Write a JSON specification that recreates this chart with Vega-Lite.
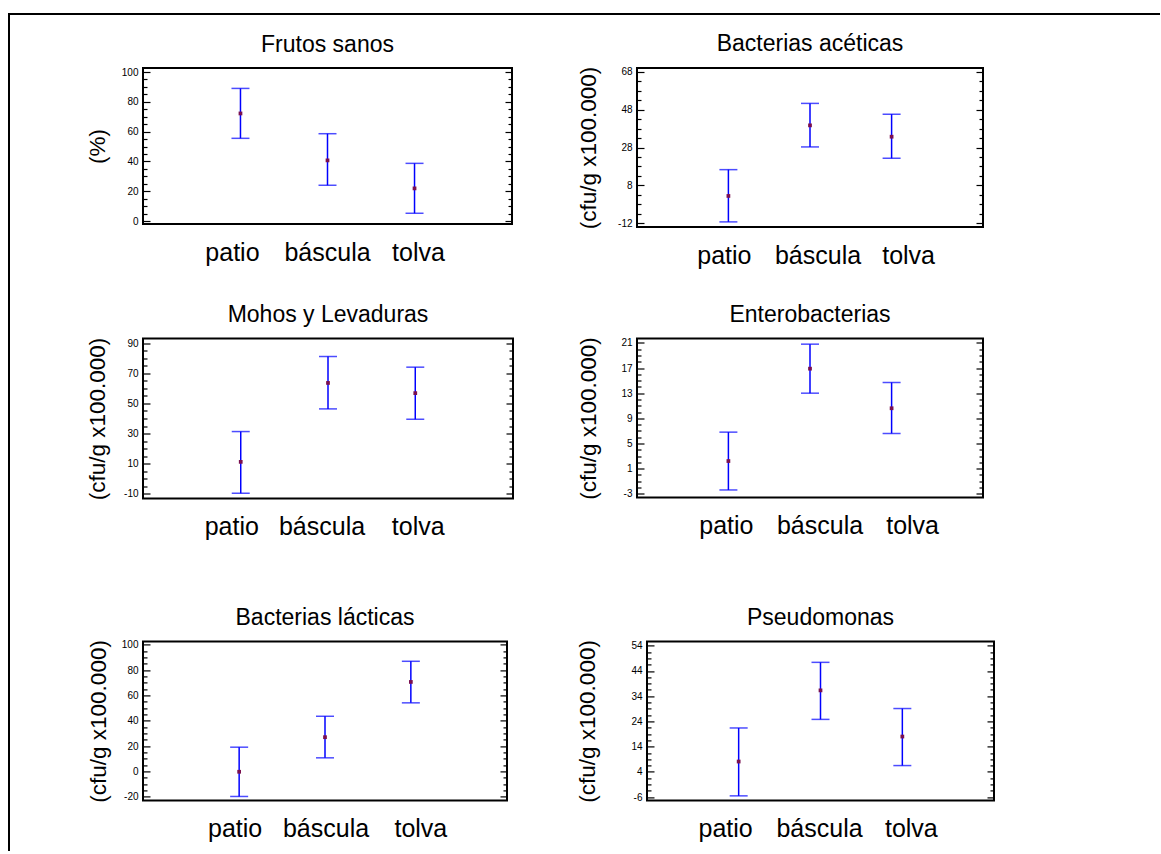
{
  "$schema": "https://vega.github.io/schema/vega-lite/v6.json",
  "padding": {"left": 8, "top": 13, "right": 0, "bottom": 0},
  "datasets": {
    "marco": [{"borde": "marco"}],
    "medias": [
      {"panel": "fs", "sitio": "patio", "media": 72.2, "inferior": 55.5, "superior": 89.0},
      {"panel": "fs", "sitio": "báscula", "media": 40.7, "inferior": 24.0, "superior": 58.6},
      {"panel": "fs", "sitio": "tolva", "media": 21.9, "inferior": 5.2, "superior": 38.7},
      {"panel": "ba", "sitio": "patio", "media": 2.4, "inferior": -11.3, "superior": 16.3},
      {"panel": "ba", "sitio": "báscula", "media": 39.7, "inferior": 28.3, "superior": 51.3},
      {"panel": "ba", "sitio": "tolva", "media": 33.7, "inferior": 22.3, "superior": 45.6},
      {"panel": "ml", "sitio": "patio", "media": 11.1, "inferior": -9.8, "superior": 31.3},
      {"panel": "ml", "sitio": "báscula", "media": 63.7, "inferior": 46.4, "superior": 81.3},
      {"panel": "ml", "sitio": "tolva", "media": 56.9, "inferior": 39.5, "superior": 74.2},
      {"panel": "en", "sitio": "patio", "media": 2.2, "inferior": -2.4, "superior": 6.8},
      {"panel": "en", "sitio": "báscula", "media": 16.9, "inferior": 13.0, "superior": 20.8},
      {"panel": "en", "sitio": "tolva", "media": 10.6, "inferior": 6.6, "superior": 14.7},
      {"panel": "bl", "sitio": "patio", "media": -0.3, "inferior": -19.8, "superior": 19.1},
      {"panel": "bl", "sitio": "báscula", "media": 27.0, "inferior": 10.7, "superior": 43.5},
      {"panel": "bl", "sitio": "tolva", "media": 70.6, "inferior": 54.1, "superior": 86.9},
      {"panel": "ps", "sitio": "patio", "media": 8.1, "inferior": -5.5, "superior": 21.4},
      {"panel": "ps", "sitio": "báscula", "media": 36.3, "inferior": 24.8, "superior": 47.4},
      {"panel": "ps", "sitio": "tolva", "media": 18.0, "inferior": 6.5, "superior": 29.1}
    ]
  },
  "spacing": 0,
  "hconcat": [
    {"width": 2, "height": 838, "view": {"stroke": null}, "data": {"name": "marco"}, "mark": {"type": "rect", "color": "#000000"}, "encoding": {}},
    {
      "spacing": 17,
      "vconcat": [
        {"width": 1150, "height": 2, "view": {"stroke": null}, "data": {"name": "marco"}, "mark": {"type": "rect", "color": "#000000"}, "encoding": {}},
        {
          "spacing": 73,
          "hconcat": [
            {"width": 1, "height": 1, "view": {"stroke": null}, "data": {"values": []}, "mark": "point"},
            {
              "spacing": 64.4,
              "vconcat": [
                {
                  "spacing": 33.5,
                  "vconcat": [
                    {
                      "bounds": "flush",
                      "spacing": 125,
                      "hconcat": [
                        {
                          "width": 369, "height": 156,
                          "title": "Frutos sanos",
                          "data": {"name": "medias"},
                          "transform": [{"filter": "datum.panel === 'fs'"}],
                          "encoding": {"x": {"field": "sitio", "type": "nominal", "scale": {"type": "band", "paddingInner": 0.76, "paddingOuter": 1.0, "domain": ["patio", "báscula", "tolva"]}, "axis": {"title": null, "ticks": false, "domain": false, "labelFontSize": 25, "labelPadding": 16, "labelAngle": 0, "labelOverlap": false, "labelOffset": {"expr": "datum.value === 'patio' ? -8 : datum.value === 'tolva' ? 4 : 0"}}}},
                          "layer": [
                            {"mark": {"type": "rule", "color": "#0000ff", "strokeWidth": 1.5},
                             "encoding": {"y": {"field": "inferior", "type": "quantitative", "scale": {"domain": [-2, 102.7], "nice": false, "zero": false},
                               "axis": {"orient": "left", "title": "(%)", "titlePadding": 9, "minExtent": 25, "maxExtent": 25, "labelPadding": 12, "format": "d",
                                 "values": [0,5,10,15,20,25,30,35,40,45,50,55,60,65,70,75,80,85,90,95,100],
                                 "labelExpr": "datum.value % 20 === 0 ? datum.label : ''",
                                 "tickSize": {"condition": {"test": "datum.value % 20 === 0", "value": -7}, "value": -4}}},
                               "y2": {"field": "superior"}}},
                            {"mark": {"type": "tick", "color": "#0000ff", "size": 18, "thickness": 1.5},
                             "encoding": {"y": {"field": "superior", "type": "quantitative", "scale": {"domain": [-2, 102.7], "nice": false, "zero": false},
                               "axis": {"orient": "right", "title": null, "labels": false, "minExtent": 0, "maxExtent": 0,
                                 "values": [0,5,10,15,20,25,30,35,40,45,50,55,60,65,70,75,80,85,90,95,100],
                                 "tickSize": {"condition": {"test": "datum.value % 20 === 0", "value": -7}, "value": -4}}}}},
                            {"mark": {"type": "tick", "color": "#0000ff", "size": 18, "thickness": 1.5},
                             "encoding": {"y": {"field": "inferior", "type": "quantitative", "scale": {"domain": [-2, 102.7], "nice": false, "zero": false}, "axis": null}}},
                            {"mark": {"type": "point", "shape": "square", "filled": true, "size": 14, "color": "#7a1050", "opacity": 1},
                             "encoding": {"y": {"field": "media", "type": "quantitative", "scale": {"domain": [-2, 102.7], "nice": false, "zero": false}, "axis": null}}}
                          ],
                          "resolve": {"axis": {"y": "independent"}}
                        },
                        {
                          "width": 346, "height": 159,
                          "title": "Bacterias acéticas",
                          "data": {"name": "medias"},
                          "transform": [{"filter": "datum.panel === 'ba'"}],
                          "encoding": {"x": {"field": "sitio", "type": "nominal", "scale": {"type": "band", "paddingInner": 0.76, "paddingOuter": 1.0, "domain": ["patio", "báscula", "tolva"]}, "axis": {"title": null, "ticks": false, "domain": false, "labelFontSize": 25, "labelPadding": 16, "labelAngle": 0, "labelOverlap": false, "labelOffset": {"expr": "datum.value === 'patio' ? -4 : datum.value === 'tolva' ? 17 : 8"}}}},
                          "layer": [
                            {"mark": {"type": "rule", "color": "#0000ff", "strokeWidth": 1.5},
                             "encoding": {"y": {"field": "inferior", "type": "quantitative", "scale": {"domain": [-14, 70], "nice": false, "zero": false},
                               "axis": {"orient": "left", "title": "(cfu/g x100.000)", "titlePadding": 12, "minExtent": 25, "maxExtent": 25, "labelPadding": 12, "format": "d",
                                 "values": [-12,-7,-2,3,8,13,18,23,28,33,38,43,48,53,58,63,68],
                                 "labelExpr": "(datum.value + 12) % 20 === 0 ? datum.label : ''",
                                 "tickSize": {"condition": {"test": "(datum.value + 12) % 20 === 0", "value": -7}, "value": -4}}},
                               "y2": {"field": "superior"}}},
                            {"mark": {"type": "tick", "color": "#0000ff", "size": 18, "thickness": 1.5},
                             "encoding": {"y": {"field": "superior", "type": "quantitative", "scale": {"domain": [-14, 70], "nice": false, "zero": false},
                               "axis": {"orient": "right", "title": null, "labels": false, "minExtent": 0, "maxExtent": 0,
                                 "values": [-12,-7,-2,3,8,13,18,23,28,33,38,43,48,53,58,63,68],
                                 "tickSize": {"condition": {"test": "(datum.value + 12) % 20 === 0", "value": -7}, "value": -4}}}}},
                            {"mark": {"type": "tick", "color": "#0000ff", "size": 18, "thickness": 1.5},
                             "encoding": {"y": {"field": "inferior", "type": "quantitative", "scale": {"domain": [-14, 70], "nice": false, "zero": false}, "axis": null}}},
                            {"mark": {"type": "point", "shape": "square", "filled": true, "size": 14, "color": "#7a1050", "opacity": 1},
                             "encoding": {"y": {"field": "media", "type": "quantitative", "scale": {"domain": [-14, 70], "nice": false, "zero": false}, "axis": null}}}
                          ],
                          "resolve": {"axis": {"y": "independent"}}
                        }
                      ]
                    },
                    {
                      "bounds": "flush",
                      "spacing": 124,
                      "hconcat": [
                        {
                          "width": 370, "height": 160,
                          "title": "Mohos y Levaduras",
                          "data": {"name": "medias"},
                          "transform": [{"filter": "datum.panel === 'ml'"}],
                          "encoding": {"x": {"field": "sitio", "type": "nominal", "scale": {"type": "band", "paddingInner": 0.76, "paddingOuter": 1.0, "domain": ["patio", "báscula", "tolva"]}, "axis": {"title": null, "ticks": false, "domain": false, "labelFontSize": 25, "labelPadding": 16, "labelAngle": 0, "labelOverlap": false, "labelOffset": {"expr": "datum.value === 'patio' ? -9 : datum.value === 'tolva' ? 3 : -6"}}}},
                          "layer": [
                            {"mark": {"type": "rule", "color": "#0000ff", "strokeWidth": 1.5},
                             "encoding": {"y": {"field": "inferior", "type": "quantitative", "scale": {"domain": [-13.3, 93.3], "nice": false, "zero": false},
                               "axis": {"orient": "left", "title": "(cfu/g x100.000)", "titlePadding": 9, "minExtent": 25, "maxExtent": 25, "labelPadding": 12, "format": "d",
                                 "values": [-10,-5,0,5,10,15,20,25,30,35,40,45,50,55,60,65,70,75,80,85,90],
                                 "labelExpr": "(datum.value + 10) % 20 === 0 ? datum.label : ''",
                                 "tickSize": {"condition": {"test": "(datum.value + 10) % 20 === 0", "value": -7}, "value": -4}}},
                               "y2": {"field": "superior"}}},
                            {"mark": {"type": "tick", "color": "#0000ff", "size": 18, "thickness": 1.5},
                             "encoding": {"y": {"field": "superior", "type": "quantitative", "scale": {"domain": [-13.3, 93.3], "nice": false, "zero": false},
                               "axis": {"orient": "right", "title": null, "labels": false, "minExtent": 0, "maxExtent": 0,
                                 "values": [-10,-5,0,5,10,15,20,25,30,35,40,45,50,55,60,65,70,75,80,85,90],
                                 "tickSize": {"condition": {"test": "(datum.value + 10) % 20 === 0", "value": -7}, "value": -4}}}}},
                            {"mark": {"type": "tick", "color": "#0000ff", "size": 18, "thickness": 1.5},
                             "encoding": {"y": {"field": "inferior", "type": "quantitative", "scale": {"domain": [-13.3, 93.3], "nice": false, "zero": false}, "axis": null}}},
                            {"mark": {"type": "point", "shape": "square", "filled": true, "size": 14, "color": "#7a1050", "opacity": 1},
                             "encoding": {"y": {"field": "media", "type": "quantitative", "scale": {"domain": [-13.3, 93.3], "nice": false, "zero": false}, "axis": null}}}
                          ],
                          "resolve": {"axis": {"y": "independent"}}
                        },
                        {
                          "width": 346, "height": 159,
                          "title": "Enterobacterias",
                          "data": {"name": "medias"},
                          "transform": [{"filter": "datum.panel === 'en'"}],
                          "encoding": {"x": {"field": "sitio", "type": "nominal", "scale": {"type": "band", "paddingInner": 0.76, "paddingOuter": 1.0, "domain": ["patio", "báscula", "tolva"]}, "axis": {"title": null, "ticks": false, "domain": false, "labelFontSize": 25, "labelPadding": 16, "labelAngle": 0, "labelOverlap": false, "labelOffset": {"expr": "datum.value === 'patio' ? -2 : datum.value === 'tolva' ? 21 : 10"}}}},
                          "layer": [
                            {"mark": {"type": "rule", "color": "#0000ff", "strokeWidth": 1.5},
                             "encoding": {"y": {"field": "inferior", "type": "quantitative", "scale": {"domain": [-3.6, 21.7], "nice": false, "zero": false},
                               "axis": {"orient": "left", "title": "(cfu/g x100.000)", "titlePadding": 12, "minExtent": 25, "maxExtent": 25, "labelPadding": 12, "format": "d",
                                 "values": [-3,-2,-1,0,1,2,3,4,5,6,7,8,9,10,11,12,13,14,15,16,17,18,19,20,21],
                                 "labelExpr": "(datum.value + 3) % 4 === 0 ? datum.label : ''",
                                 "tickSize": {"condition": {"test": "(datum.value + 3) % 4 === 0", "value": -7}, "value": -4}}},
                               "y2": {"field": "superior"}}},
                            {"mark": {"type": "tick", "color": "#0000ff", "size": 18, "thickness": 1.5},
                             "encoding": {"y": {"field": "superior", "type": "quantitative", "scale": {"domain": [-3.6, 21.7], "nice": false, "zero": false},
                               "axis": {"orient": "right", "title": null, "labels": false, "minExtent": 0, "maxExtent": 0,
                                 "values": [-3,-2,-1,0,1,2,3,4,5,6,7,8,9,10,11,12,13,14,15,16,17,18,19,20,21],
                                 "tickSize": {"condition": {"test": "(datum.value + 3) % 4 === 0", "value": -7}, "value": -4}}}}},
                            {"mark": {"type": "tick", "color": "#0000ff", "size": 18, "thickness": 1.5},
                             "encoding": {"y": {"field": "inferior", "type": "quantitative", "scale": {"domain": [-3.6, 21.7], "nice": false, "zero": false}, "axis": null}}},
                            {"mark": {"type": "point", "shape": "square", "filled": true, "size": 14, "color": "#7a1050", "opacity": 1},
                             "encoding": {"y": {"field": "media", "type": "quantitative", "scale": {"domain": [-3.6, 21.7], "nice": false, "zero": false}, "axis": null}}}
                          ],
                          "resolve": {"axis": {"y": "independent"}}
                        }
                      ]
                    }
                  ]
                },
                {
                  "bounds": "flush",
                  "spacing": 140,
                  "hconcat": [
                    {
                      "width": 364, "height": 159,
                      "title": "Bacterias lácticas",
                      "data": {"name": "medias"},
                      "transform": [{"filter": "datum.panel === 'bl'"}],
                      "encoding": {"x": {"field": "sitio", "type": "nominal", "scale": {"type": "band", "paddingInner": 0.76, "paddingOuter": 1.0, "domain": ["patio", "báscula", "tolva"]}, "axis": {"title": null, "ticks": false, "domain": false, "labelFontSize": 25, "labelPadding": 16, "labelAngle": 0, "labelOverlap": false, "labelOffset": {"expr": "datum.value === 'patio' ? -4 : datum.value === 'tolva' ? 10 : 1"}}}},
                      "layer": [
                        {"mark": {"type": "rule", "color": "#0000ff", "strokeWidth": 1.5},
                         "encoding": {"y": {"field": "inferior", "type": "quantitative", "scale": {"domain": [-22.9, 102.6], "nice": false, "zero": false},
                           "axis": {"orient": "left", "title": "(cfu/g x100.000)", "titlePadding": 8, "minExtent": 25, "maxExtent": 25, "labelPadding": 12, "format": "d",
                             "values": [-20,-15,-10,-5,0,5,10,15,20,25,30,35,40,45,50,55,60,65,70,75,80,85,90,95,100],
                             "labelExpr": "(datum.value + 20) % 20 === 0 ? datum.label : ''",
                             "tickSize": {"condition": {"test": "(datum.value + 20) % 20 === 0", "value": -7}, "value": -4}}},
                           "y2": {"field": "superior"}}},
                        {"mark": {"type": "tick", "color": "#0000ff", "size": 18, "thickness": 1.5},
                         "encoding": {"y": {"field": "superior", "type": "quantitative", "scale": {"domain": [-22.9, 102.6], "nice": false, "zero": false},
                           "axis": {"orient": "right", "title": null, "labels": false, "minExtent": 0, "maxExtent": 0,
                             "values": [-20,-15,-10,-5,0,5,10,15,20,25,30,35,40,45,50,55,60,65,70,75,80,85,90,95,100],
                             "tickSize": {"condition": {"test": "(datum.value + 20) % 20 === 0", "value": -7}, "value": -4}}}}},
                        {"mark": {"type": "tick", "color": "#0000ff", "size": 18, "thickness": 1.5},
                         "encoding": {"y": {"field": "inferior", "type": "quantitative", "scale": {"domain": [-22.9, 102.6], "nice": false, "zero": false}, "axis": null}}},
                        {"mark": {"type": "point", "shape": "square", "filled": true, "size": 14, "color": "#7a1050", "opacity": 1},
                         "encoding": {"y": {"field": "media", "type": "quantitative", "scale": {"domain": [-22.9, 102.6], "nice": false, "zero": false}, "axis": null}}}
                      ],
                      "resolve": {"axis": {"y": "independent"}}
                    },
                    {
                      "width": 347, "height": 159,
                      "title": "Pseudomonas",
                      "data": {"name": "medias"},
                      "transform": [{"filter": "datum.panel === 'ps'"}],
                      "encoding": {"x": {"field": "sitio", "type": "nominal", "scale": {"type": "band", "paddingInner": 0.76, "paddingOuter": 1.0, "domain": ["patio", "báscula", "tolva"]}, "axis": {"title": null, "ticks": false, "domain": false, "labelFontSize": 25, "labelPadding": 16, "labelAngle": 0, "labelOverlap": false, "labelOffset": {"expr": "datum.value === 'patio' ? -13 : datum.value === 'tolva' ? 9 : -1"}}}},
                      "layer": [
                        {"mark": {"type": "rule", "color": "#0000ff", "strokeWidth": 1.5},
                         "encoding": {"y": {"field": "inferior", "type": "quantitative", "scale": {"domain": [-7.3, 55.7], "nice": false, "zero": false},
                           "axis": {"orient": "left", "title": "(cfu/g x100.000)", "titlePadding": 23, "minExtent": 25, "maxExtent": 25, "labelPadding": 12, "format": "d",
                             "values": [-6,-3.5,-1,1.5,4,6.5,9,11.5,14,16.5,19,21.5,24,26.5,29,31.5,34,36.5,39,41.5,44,46.5,49,51.5,54],
                             "labelExpr": "(datum.value + 6) % 10 === 0 ? datum.label : ''",
                             "tickSize": {"condition": {"test": "(datum.value + 6) % 10 === 0", "value": -7}, "value": -4}}},
                           "y2": {"field": "superior"}}},
                        {"mark": {"type": "tick", "color": "#0000ff", "size": 18, "thickness": 1.5},
                         "encoding": {"y": {"field": "superior", "type": "quantitative", "scale": {"domain": [-7.3, 55.7], "nice": false, "zero": false},
                           "axis": {"orient": "right", "title": null, "labels": false, "minExtent": 0, "maxExtent": 0,
                             "values": [-6,-3.5,-1,1.5,4,6.5,9,11.5,14,16.5,19,21.5,24,26.5,29,31.5,34,36.5,39,41.5,44,46.5,49,51.5,54],
                             "tickSize": {"condition": {"test": "(datum.value + 6) % 10 === 0", "value": -7}, "value": -4}}}}},
                        {"mark": {"type": "tick", "color": "#0000ff", "size": 18, "thickness": 1.5},
                         "encoding": {"y": {"field": "inferior", "type": "quantitative", "scale": {"domain": [-7.3, 55.7], "nice": false, "zero": false}, "axis": null}}},
                        {"mark": {"type": "point", "shape": "square", "filled": true, "size": 14, "color": "#7a1050", "opacity": 1},
                         "encoding": {"y": {"field": "media", "type": "quantitative", "scale": {"domain": [-7.3, 55.7], "nice": false, "zero": false}, "axis": null}}}
                      ],
                      "resolve": {"axis": {"y": "independent"}}
                    }
                  ]
                }
              ]
            }
          ]
        }
      ]
    }
  ],
  "config": {
    "font": "Liberation Sans",
    "background": "#ffffff",
    "view": {"stroke": "#000000", "strokeWidth": 2},
    "locale": {"number": {"decimal": ".", "thousands": ",", "grouping": [3], "currency": ["", ""], "minus": "-"}},
    "axis": {
      "grid": false, "domain": false,
      "labelFont": "Liberation Sans", "labelColor": "#000000", "labelFontSize": 10, "labelOverlap": false,
      "tickColor": "#000000", "tickWidth": 1.2,
      "titleFont": "Liberation Sans", "titleFontSize": 22.5, "titleFontWeight": "normal", "titleColor": "#000000"
    },
    "title": {"font": "Liberation Sans", "fontSize": 23, "fontWeight": "normal", "color": "#000000", "offset": 10}
  }
}
